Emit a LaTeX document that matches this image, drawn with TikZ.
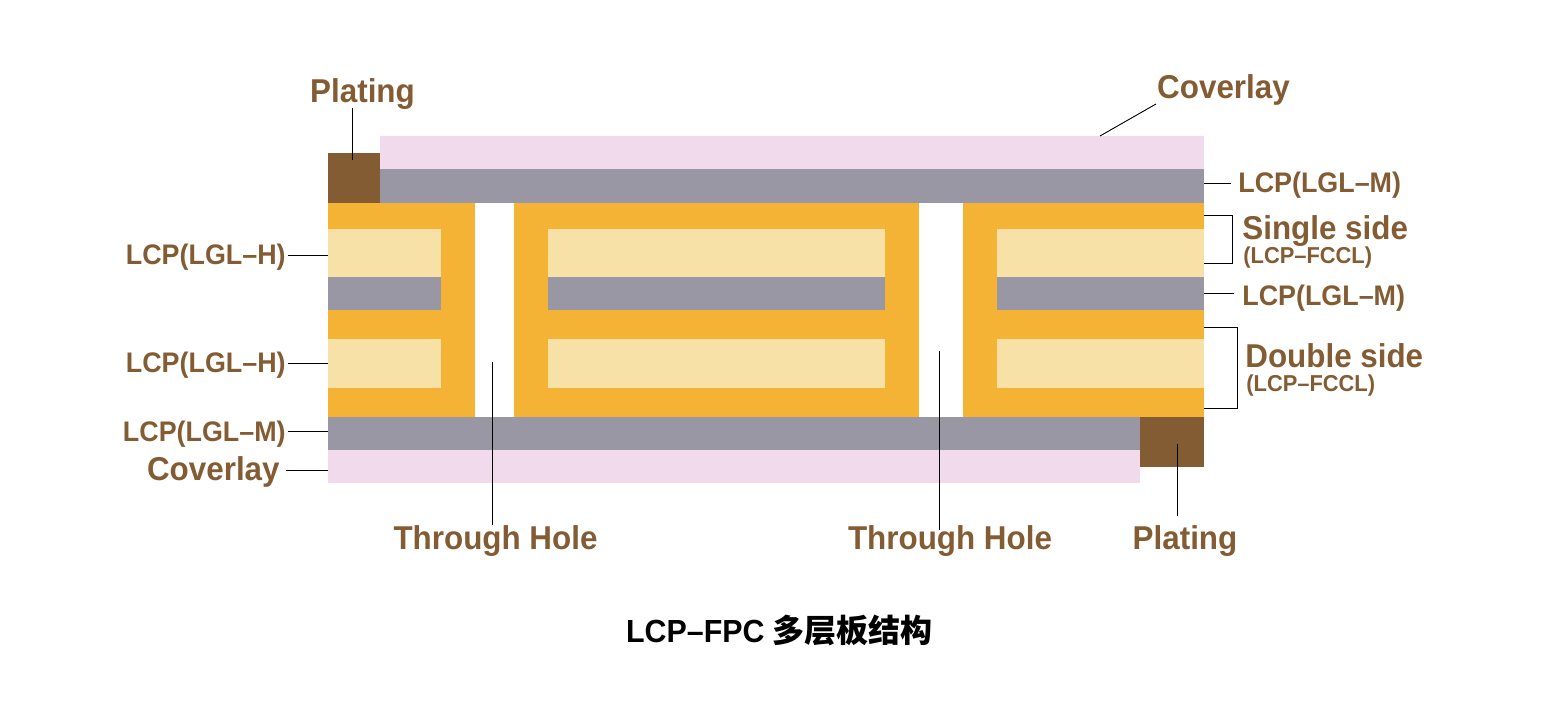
\documentclass[tikz,border=0pt]{standalone}
\usepackage{fontspec}
\setmainfont[FakeStretch=0.95]{Liberation Sans}
\newfontfamily\cjk{Noto Sans CJK SC}
\usepackage{xcolor}
\usepackage{tikz}
\definecolor{platebrown}{HTML}{835C33}
\definecolor{foilorange}{HTML}{F5B335}
\definecolor{coreyellow}{HTML}{F7E1A6}
\definecolor{bondgray}{HTML}{9A97A5}
\definecolor{coverpink}{HTML}{F1DAEB}
\tikzset{
  lead/.style={black, line width=0.5pt},
  lblbig/.style={text=platebrown, inner sep=0pt, font=\fontsize{18.8}{20}\selectfont\bfseries},
  lblmid/.style={text=platebrown, inner sep=0pt, font=\fontsize{16.1}{18}\selectfont\bfseries},
  lblsub/.style={text=platebrown, inner sep=0pt, font=\fontsize{13.1}{14}\selectfont\bfseries},
}
\begin{document}
\begin{tikzpicture}[x=0.02cm,y=-0.02cm]
\useasboundingbox (0,0) rectangle (1545,702);
\fill[coverpink] (380,136) rectangle (1204,169);
\fill[bondgray] (380,169) rectangle (1204,203);
\fill[platebrown] (328,153) rectangle (380,204);
\fill[foilorange] (328,203) rectangle (475,417);
\fill[foilorange] (514,203) rectangle (919,417);
\fill[foilorange] (963,203) rectangle (1204,417);
\fill[coreyellow] (328,229) rectangle (441,277);
\fill[coreyellow] (548,229) rectangle (885,277);
\fill[coreyellow] (997,229) rectangle (1204,277);
\fill[bondgray] (328,277) rectangle (441,310);
\fill[bondgray] (548,277) rectangle (885,310);
\fill[bondgray] (997,277) rectangle (1204,310);
\fill[coreyellow] (328,339) rectangle (441,388);
\fill[coreyellow] (548,339) rectangle (885,388);
\fill[coreyellow] (997,339) rectangle (1204,388);
\fill[bondgray] (328,417) rectangle (1140,450);
\fill[coverpink] (328,450) rectangle (1140,483);
\fill[platebrown] (1140,417) rectangle (1204,467);
\node[lblbig, anchor=base] (platingA) at (362.5,103) {Plating};
\node[lblbig, anchor=base] (coverA) at (1223.5,99) {Coverlay};
\node[lblmid, anchor=base west] (bondA) at (1238,193) {LCP(LGL–M)};
\node[lblbig, anchor=base west] (single) at (1242,239.5) {Single side};
\node[lblsub, anchor=base west] (singleSub) at (1243,263.5) {(LCP–FCCL)};
\node[lblmid, anchor=base west] (bondB) at (1242,306) {LCP(LGL–M)};
\node[lblbig, anchor=base west] (double) at (1245,367.5) {Double side};
\node[lblsub, anchor=base west] (doubleSub) at (1246,392) {(LCP–FCCL)};
\node[lblmid, anchor=base east] (coreA) at (286,265) {LCP(LGL–H)};
\node[lblmid, anchor=base east] (coreB) at (286,373) {LCP(LGL–H)};
\node[lblmid, anchor=base east] (bondC) at (286,441) {LCP(LGL–M)};
\node[lblbig, anchor=base east] (coverB) at (280,480) {Coverlay};
\node[lblbig, anchor=base] (holeA) at (495.5,549) {Through Hole};
\node[lblbig, anchor=base] (holeB) at (950,549) {Through Hole};
\node[lblbig, anchor=base] (platingB) at (1185,549) {Plating};
\node[anchor=base, inner sep=0pt, font=\fontsize{18.2}{20}\selectfont\bfseries] (title) at (779.5,642) {LCP–FPC {\cjk 多层板结构}};
\coordinate (tipPlatingA) at (352,160);
\coordinate (tipCoverA) at (1100,136);
\coordinate (startCoverA) at (1156,104);
\coordinate (tipBondA) at (1204,183);
\coordinate (tipBondB) at (1204,293);
\coordinate (tipCoreA) at (328,255);
\coordinate (tipCoreB) at (328,363);
\coordinate (tipBondC) at (328,431);
\coordinate (tipCoverB) at (328,470);
\coordinate (tipHoleA) at (492,362);
\coordinate (tipHoleB) at (939,351);
\coordinate (tipPlatingB) at (1177,444);
\draw[lead] (352,108) -- (tipPlatingA);
\draw[lead] (startCoverA) -- (tipCoverA);
\draw[lead, shorten >=4pt] (tipBondA) -- (bondA.west |- tipBondA);
\draw[lead, shorten >=4.4pt] (tipBondB) -- (bondB.west |- tipBondB);
\draw[lead, shorten <=1.1pt] (bondC.east |- tipBondC) -- (tipBondC);
\draw[lead, shorten <=1.1pt] (coreA.east |- tipCoreA) -- (tipCoreA);
\draw[lead, shorten <=1.1pt] (coreB.east |- tipCoreB) -- (tipCoreB);
\draw[lead, shorten <=3.4pt] (coverB.east |- tipCoverB) -- (tipCoverB);
\draw[lead] (tipHoleA) -- (492,525);
\draw[lead] (tipHoleB) -- (939,530);
\draw[lead] (tipPlatingB) -- (1177,516);
\draw[lead] (1204,215) -- (1232,215) -- (1232,263) -- (1204,263);
\draw[lead] (1204,327) -- (1237,327) -- (1237,408) -- (1204,408);
\end{tikzpicture}
\end{document}
